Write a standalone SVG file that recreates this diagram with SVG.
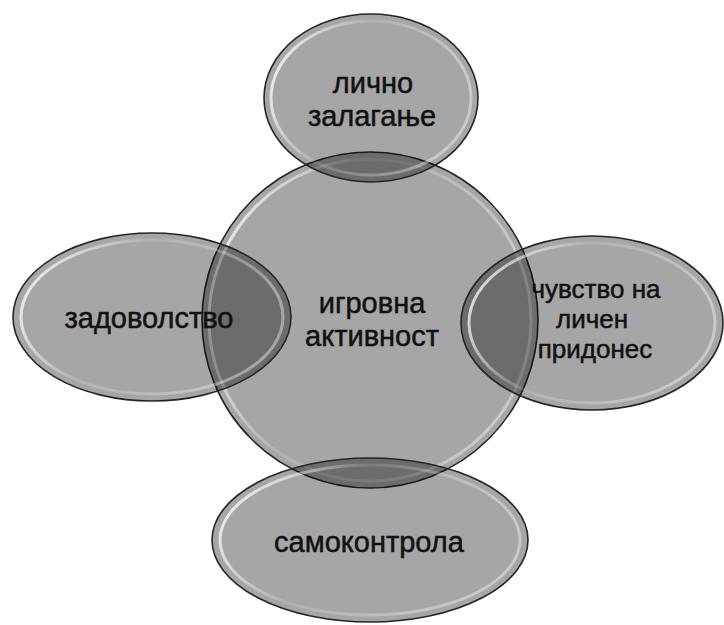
<svg xmlns="http://www.w3.org/2000/svg" width="724" height="625" viewBox="0 0 724 625">
<defs>
<linearGradient id="rim" x1="0" y1="0" x2="1" y2="0.3">
<stop offset="0" stop-color="#ffffff" stop-opacity="0.95"/>
<stop offset="0.45" stop-color="#ffffff" stop-opacity="0.12"/>
<stop offset="1" stop-color="#ffffff" stop-opacity="0.4"/>
</linearGradient>
</defs>
<style>
.shape{fill:#000000;fill-opacity:0.35;stroke:#262626;stroke-width:1.6}
.rim{fill:none;stroke:url(#rim);stroke-width:3}
.lbl{font-family:"Liberation Sans",Arial,sans-serif;font-size:29px;fill:#111111;stroke:#111111;stroke-width:0.5;text-anchor:middle}
.sm{font-size:26px}
</style>
<rect x="0" y="0" width="724" height="625" fill="#ffffff"/>
<g id="center">
<circle class="shape" cx="370" cy="320" r="168"/>
<circle class="rim" cx="370" cy="320" r="161"/>
</g>
<g id="top">
<ellipse class="shape" cx="371" cy="98" rx="107" ry="84"/>
<ellipse class="rim" cx="371" cy="98" rx="100" ry="77"/>
</g>
<g id="left">
<ellipse class="shape" cx="152" cy="317" rx="139" ry="84"/>
<ellipse class="rim" cx="152" cy="317" rx="131" ry="77"/>
</g>
<g id="right">
<ellipse class="shape" cx="592" cy="323" rx="131" ry="87"/>
<ellipse class="rim" cx="592" cy="323" rx="123" ry="80"/>
</g>
<g id="bottom">
<ellipse class="shape" cx="370" cy="540" rx="158" ry="82"/>
<ellipse class="rim" cx="370" cy="540" rx="150" ry="75"/>
</g>
<g id="connectors"></g>
<g id="labels">
<text class="lbl" x="373" y="93">лично</text>
<text class="lbl" x="372" y="126">залагање</text>
<text class="lbl" x="149" y="328">задоволство</text>
<text class="lbl" x="372" y="313">игровна</text>
<text class="lbl" x="372" y="346">активност</text>
<text class="lbl sm" x="596" y="298">чувство на</text>
<text class="lbl sm" x="592" y="328">личен</text>
<text class="lbl sm" x="595" y="358">придонес</text>
<text class="lbl" x="369" y="552">самоконтрола</text>
</g>
</svg>
